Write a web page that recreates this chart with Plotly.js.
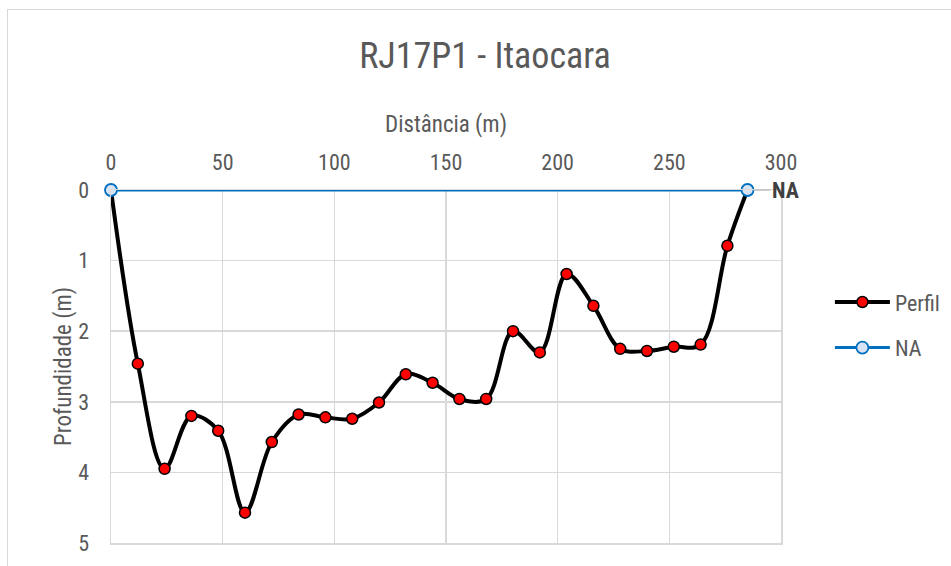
<!DOCTYPE html>
<html>
<head>
<meta charset="utf-8">
<script src="https://cdn.plot.ly/plotly-3.0.1.min.js"></script>
<style>
  html, body { margin: 0; padding: 0; background: #ffffff; overflow: hidden; }
  #wrap { position: relative; width: 951px; height: 566px; }
  #chart { position: absolute; left: 0; top: 0; width: 951px; height: 566px; }
  #frame { position: absolute; left: 7px; top: 9px; width: 960px; height: 570px;
           border: 1px solid #d9d9d9; pointer-events: none; box-sizing: border-box; }
</style>
</head>
<body>
<div id="wrap">
  <div id="chart"></div>
  <div id="frame"></div>
</div>
<script>
// ---- data ----
const chartTitle = "RJ17P1 - Itaocara";
const xTitle = "Distância (m)";
const yTitle = "Profundidade (m)";

const perfilName = "Perfil";
const perfilX = [0, 12, 24, 36, 48, 60, 72, 84, 96, 108, 120, 132, 144, 156, 168, 180, 192, 204, 216, 228, 240, 252, 264, 276, 285];
const perfilY = [0, 2.46, 3.95, 3.20, 3.41, 4.57, 3.57, 3.18, 3.22, 3.24, 3.01, 2.61, 2.73, 2.96, 2.96, 2.00, 2.30, 1.19, 1.64, 2.25, 2.28, 2.22, 2.19, 0.79, 0];

const naName = "NA";
const naX = [0, 285];
const naY = [0, 0];
const naLabel = "NA";

const xTicks = [0, 50, 100, 150, 200, 250, 300];
const yTicks = [0, 1, 2, 3, 4, 5];

// ---- chart ----
const FONT = "'Liberation Sans Narrow', 'Roboto Condensed', 'Arial Narrow', 'Liberation Sans', sans-serif";
const GRAY = "#595959";

const traces = [
  {
    x: perfilX, y: perfilY, name: perfilName, type: "scatter", mode: "lines+markers",
    line: { color: "#000000", width: 4, shape: "spline", smoothing: 1 },
    marker: { color: "#ff0000", size: 11, line: { color: "#000000", width: 1.5 } },
    legendgroup: "g1", cliponaxis: false
  },
  {
    x: naX, y: naY, name: naName, type: "scatter", mode: "lines+markers",
    line: { color: "#0070c0", width: 3 },
    marker: { color: "#dae3f3", size: 12, line: { color: "#0070c0", width: 1.8 } },
    legendgroup: "g2", cliponaxis: false
  }
];

const layout = {
  width: 951, height: 566,
  margin: { l: 111, r: 170, t: 190, b: 23, pad: 0, autoexpand: false },
  paper_bgcolor: "#ffffff", plot_bgcolor: "#ffffff",
  font: { family: FONT, color: GRAY, size: 22 },
  title: { text: chartTitle, font: { family: FONT, size: 36, color: GRAY },
           xref: "container", x: 0.51, xanchor: "center",
           yref: "container", y: 1 - 55 / 566, yanchor: "middle" },
  xaxis: {
    side: "top", range: [0, 300], tickvals: xTicks, ticktext: xTicks.map(String),
    showgrid: true, gridcolor: "#d9d9d9", gridwidth: 1.5,
    zeroline: false, showline: true, mirror: true, linecolor: "#d9d9d9", linewidth: 1.5,
    ticks: "outside", ticklen: 10, tickcolor: "rgba(0,0,0,0)",
    tickfont: { family: FONT, size: 22, color: GRAY },
    title: { text: xTitle, font: { family: FONT, size: 23, color: GRAY }, standoff: 10 }
  },
  yaxis: {
    range: [5, 0], tickvals: yTicks, ticktext: yTicks.map(String),
    showgrid: true, gridcolor: "#d9d9d9", gridwidth: 1.5,
    zeroline: false, showline: true, mirror: true, linecolor: "#d9d9d9", linewidth: 1.5,
    ticks: "outside", ticklen: 16, tickcolor: "rgba(0,0,0,0)",
    tickfont: { family: FONT, size: 22, color: GRAY },
    title: { text: yTitle, font: { family: FONT, size: 23, color: GRAY }, standoff: 0 }
  },
  legend: {
    x: 1.073, xref: "paper", xanchor: "left",
    y: 0.617, yanchor: "middle",
    font: { family: FONT, size: 22, color: GRAY },
    traceorder: "grouped", tracegroupgap: 14, itemwidth: 55,
    bgcolor: "rgba(0,0,0,0)"
  },
  annotations: [
    {
      x: naX[naX.length - 1], y: naY[naY.length - 1], xref: "x", yref: "y",
      text: "<b>" + naLabel + "</b>", showarrow: true, arrowhead: 0, arrowwidth: 1.5,
      arrowcolor: "#bfbfbf", ax: 38, ay: 0, standoff: 6,
      font: { family: FONT, size: 22, color: "#404040" }
    }
  ],
  showlegend: true
};

Plotly.newPlot("chart", traces, layout, { displayModeBar: false, staticPlot: true });
</script>
</body>
</html>
